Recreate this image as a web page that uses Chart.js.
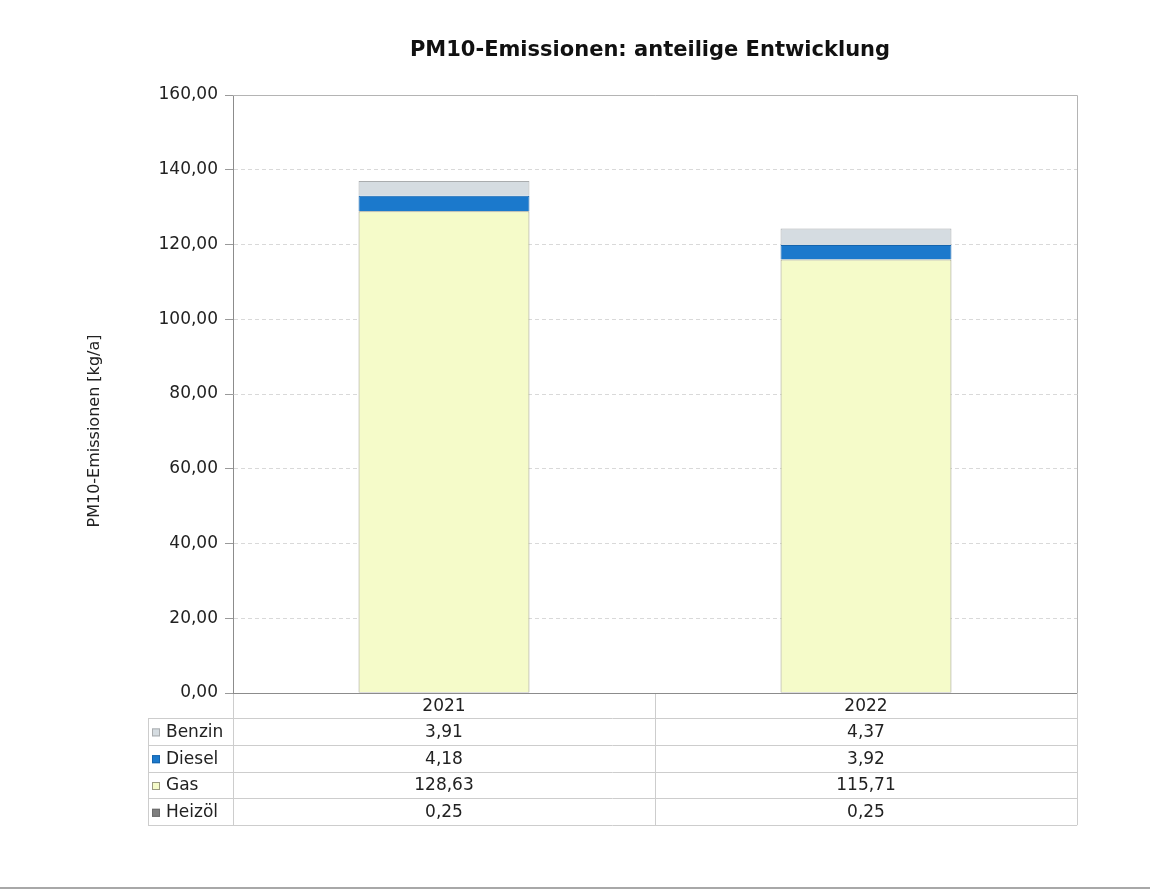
<!DOCTYPE html>
<html lang="de">
<head>
  <meta charset="UTF-8" />
  <title>PM10-Emissionen: anteilige Entwicklung</title>
  <script src="https://cdn.jsdelivr.net/npm/chart.js@4"></script>
  <style>
    body { margin: 0; background: #fff; }
    .page { position: relative; width: 1150px; height: 893px; overflow: hidden; }
    .page:after { content: ''; position: absolute; left: 0; right: 0; top: 887px; border-top: 2px solid #a8a8a8; }
  </style>
</head>
<body>
  <div class="page"><canvas id="pm10" width="1150" height="893"></canvas></div>
  <script>
    // values
    const years = ['2021', '2022'];
    const benzin = [3.91, 4.37];
    const diesel = [4.18, 3.92];
    const gas = [128.63, 115.71];
    const heizoel = [0.25, 0.25];

    const fmt = v => v.toFixed(2).replace('.', ',');
    const font = 'DejaVu Sans, Verdana, sans-serif';

    // stacked bottom -> top
    const series = [
      { label: 'Heizöl', data: heizoel, fill: '#7f7f7f', line: '#6b6b6b' },
      { label: 'Gas', data: gas, fill: '#f5fbc9', line: '#9a9a80' },
      { label: 'Diesel', data: diesel, fill: '#1b79cc', line: '#1464ad' },
      { label: 'Benzin', data: benzin, fill: '#d5dce1', line: '#a9acae' }
    ];
    // table row order
    const tableRows = ['Benzin', 'Diesel', 'Gas', 'Heizöl'];

    // title, axis title, frame of the plot area + data table
    const extras = {
      id: 'extras',
      beforeDatasetsDraw(chart) {
        const a = chart.chartArea, c = chart.ctx;
        c.save();
        c.strokeStyle = '#b4b4b4';
        c.lineWidth = 1;
        c.beginPath();
        c.moveTo(a.left, a.top + 0.5); c.lineTo(a.right + 0.5, a.top + 0.5);
        c.lineTo(a.right + 0.5, a.bottom);
        c.stroke();
        c.restore();
      },
      afterDraw(chart) {
        const a = chart.chartArea, c = chart.ctx, x = chart.scales.x;
        c.save();
        // title
        c.fillStyle = '#111';
        c.font = 'bold 21px ' + font;
        c.textAlign = 'center';
        c.textBaseline = 'middle';
        c.fillText('PM10-Emissionen: anteilige Entwicklung', 650, 51);

        // y axis title (sits a bit below the middle in the original)
        c.save();
        c.translate(95, 431);
        c.rotate(-Math.PI / 2);
        c.font = '16px ' + font;
        c.fillStyle = '#222';
        c.fillText('PM10-Emissionen [kg/a]', 0, 0);
        c.restore();

        // table
        const headH = 25, rowH = 26.8, legL = 148;
        const top = a.bottom, rowsTop = top + headH;
        const bottom = rowsTop + rowH * tableRows.length;
        const mid = (x.getPixelForValue(0) + x.getPixelForValue(1)) / 2;
        c.strokeStyle = '#cdcdcd';
        c.lineWidth = 1;
        c.beginPath();
        for (let i = 0; i <= tableRows.length; i++) {
          const y = Math.round(rowsTop + rowH * i) + 0.5;
          c.moveTo(legL, y); c.lineTo(a.right, y);
        }
        [legL, a.left, mid, a.right].forEach((vx, i) => {
          const px = Math.round(vx) + 0.5;
          c.moveTo(px, i === 0 ? rowsTop : top); c.lineTo(px, bottom);
        });
        c.stroke();
        // plot bottom axis line
        c.strokeStyle = '#8c8c8c';
        c.beginPath();
        c.moveTo(a.left, Math.round(top) + 0.5); c.lineTo(a.right, Math.round(top) + 0.5);
        c.stroke();

        c.font = '17px ' + font;
        c.fillStyle = '#222';
        c.textAlign = 'center';
        years.forEach((yr, i) => c.fillText(yr, x.getPixelForValue(i), top + headH / 2 + 1));
        tableRows.forEach((name, r) => {
          const s = series.find(d => d.label === name);
          const cy = rowsTop + rowH * r + rowH / 2 + 1;
          c.fillStyle = s.fill;
          c.fillRect(152, cy - 4, 8, 8);
          c.strokeStyle = s.line;
          c.strokeRect(152.5, cy - 3.5, 7, 7);
          c.fillStyle = '#222';
          c.textAlign = 'left';
          c.fillText(name, 166, cy);
          c.textAlign = 'center';
          s.data.forEach((v, i) => c.fillText(fmt(v), x.getPixelForValue(i), cy));
        });
        c.restore();
      }
    };

    new Chart(document.getElementById('pm10'), {
      type: 'bar',
      data: {
        labels: years,
        datasets: series.map(s => ({
          label: s.label,
          data: s.data,
          backgroundColor: s.fill,
          borderColor: s.line,
          borderWidth: 1,
          categoryPercentage: 1,
          barPercentage: 0.405
        }))
      },
      options: {
        responsive: false,
        animation: false,
        layout: { padding: { left: 80, right: 73, top: 95, bottom: 200 } },
        plugins: { legend: { display: false }, title: { display: false }, tooltip: { enabled: false } },
        scales: {
          x: {
            stacked: true,
            display: false
          },
          y: {
            stacked: true,
            min: 0,
            max: 160,
            afterFit: s => { s.width = 153; },
            ticks: { stepSize: 20, callback: v => fmt(v), color: '#222', font: { family: font, size: 17 }, padding: 7 },
            grid: { color: '#d9d9d9', tickLength: 8, tickColor: '#9a9a9a' },
            border: { color: '#8c8c8c', dash: [4, 3] },
            title: { display: false }
          }
        }
      },
      plugins: [extras]
    });
  </script>
</body>
</html>
